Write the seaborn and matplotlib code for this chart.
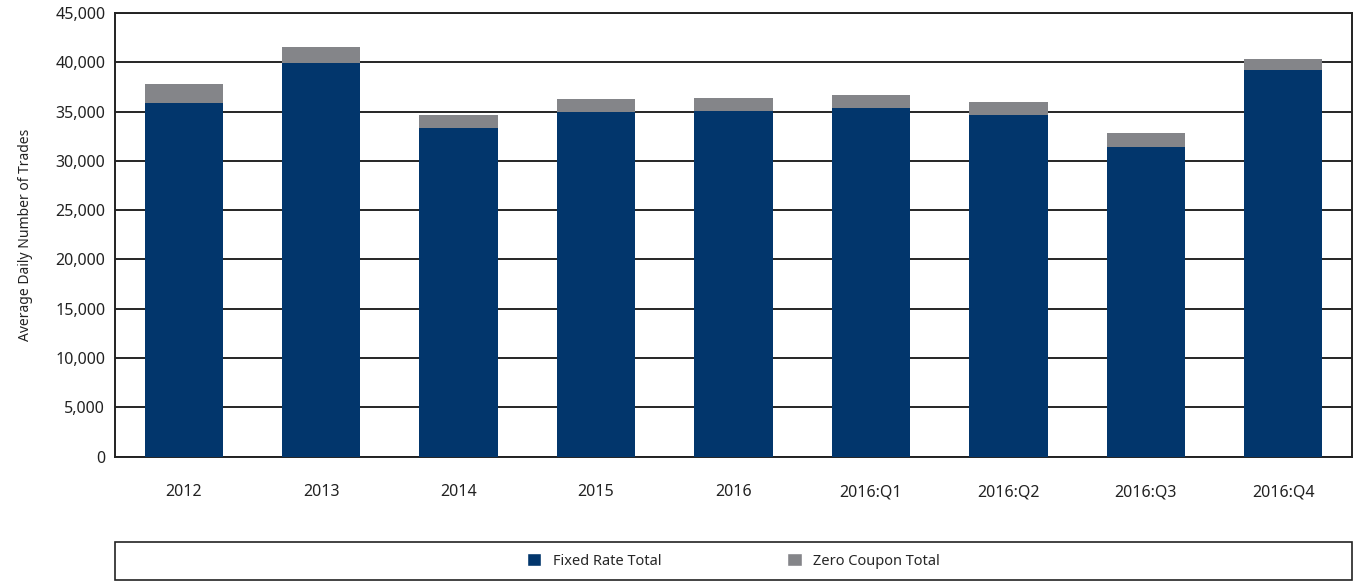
import pandas as pd
import matplotlib.pyplot as plt
import seaborn as sns
from matplotlib.patches import Patch, Rectangle
from matplotlib.ticker import FuncFormatter

periods = ['2012', '2013', '2014', '2015', '2016', '2016:Q1', '2016:Q2', '2016:Q3', '2016:Q4']
fixed_rate = [35900, 39900, 33300, 35000, 35100, 35400, 34600, 31450, 39200]
zero_coupon = [1850, 1600, 1400, 1300, 1300, 1300, 1400, 1350, 1100]

BLUE = '#02366c'
GREY = '#848589'

df = pd.DataFrame({'period': periods, 'fixed': fixed_rate, 'zero': zero_coupon})
df['total'] = df['fixed'] + df['zero']

sns.set_style('white')
plt.rcParams['font.family'] = ['Noto Sans', 'DejaVu Sans']

fig = plt.figure(figsize=(13.56, 5.82), dpi=100)
ax = fig.add_axes([0.0848, 0.2156, 0.9122, 0.7621])

# grey total underneath, blue fixed rate on top -> stacked look
sns.barplot(x='period', y='total', data=df, color=GREY, width=0.57,
            saturation=1, linewidth=0, ax=ax, zorder=3)
sns.barplot(x='period', y='fixed', data=df, color=BLUE, width=0.57,
            saturation=1, linewidth=0, ax=ax, zorder=4)

ax.set_ylim(0, 45000)
ax.set_xlim(-0.5, len(periods) - 0.5)
ax.set_yticks(range(0, 45001, 5000))
ax.yaxis.set_major_formatter(FuncFormatter(lambda v, p: f'{int(v):,}'))
ax.yaxis.grid(True, color='black', linewidth=1.2, zorder=1)
ax.set_axisbelow(True)

ax.set_xlabel('')
ax.set_ylabel('Average Daily Number of Trades', fontsize=10, color='#222222', labelpad=16)
ax.tick_params(axis='y', length=0, labelsize=11.5, colors='#222222', pad=7)
ax.tick_params(axis='x', which='major', length=0, labelsize=11.5, colors='#222222', pad=20)
ax.set_xticks([i - 0.5 for i in range(len(periods) + 1)], minor=True)
ax.tick_params(axis='x', which='minor', length=16, direction='inout', width=1.2, color='#333333')

for side in ['left', 'right', 'top', 'bottom']:
    ax.spines[side].set_visible(True)
    ax.spines[side].set_color('#222222')
    ax.spines[side].set_linewidth(1.4)

# legend in its own framed box under the chart
box = Rectangle((0.0848, 0.003), 0.9122, 0.066, transform=fig.transFigure,
                fill=False, edgecolor='#222222', linewidth=1.2)
fig.patches.append(box)
handles = [Patch(facecolor=BLUE, label='Fixed Rate Total'),
           Patch(facecolor=GREY, label='Zero Coupon Total')]
fig.legend(handles=handles, loc='center', bbox_to_anchor=(0.541, 0.036), ncol=2,
           frameon=False, fontsize=10.5, handlelength=1.0, handleheight=1.0,
           handletextpad=0.8, columnspacing=8.6)

plt.savefig('out.png', dpi=100)
plt.close()
